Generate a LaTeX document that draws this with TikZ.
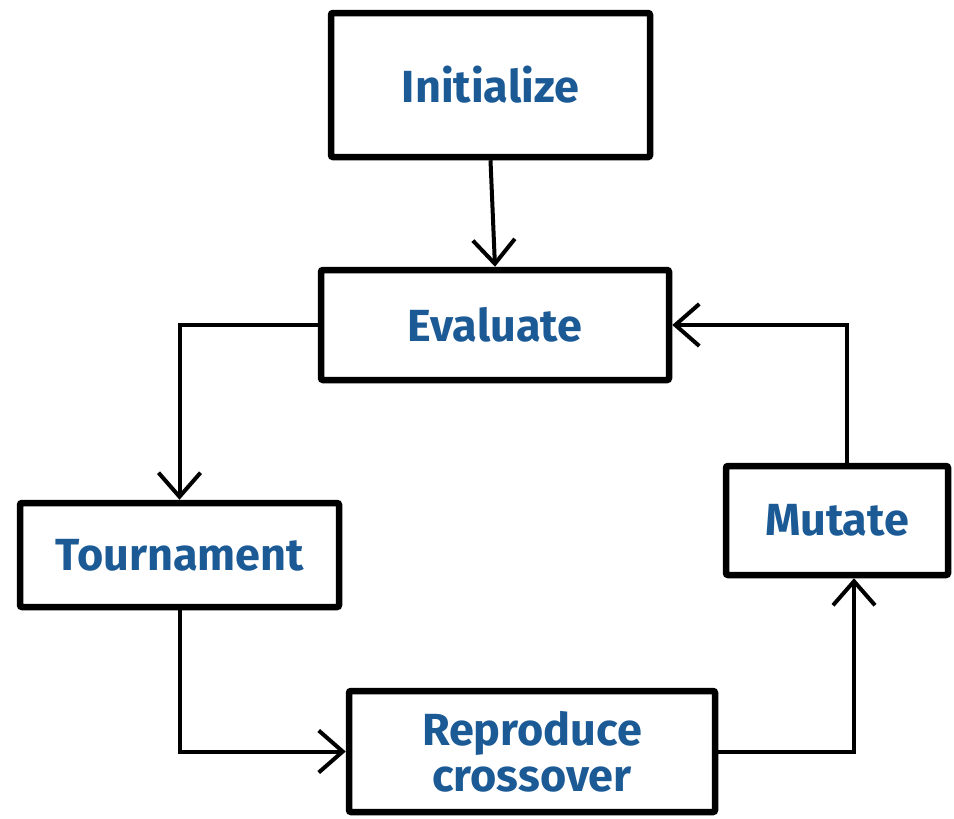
\documentclass[tikz,border=0pt]{standalone}
\usepackage{fontspec}
\setmainfont{Fira Sans}
\usetikzlibrary{arrows.meta,calc}
\definecolor{ink}{HTML}{1B5A95}
\begin{document}
\begin{tikzpicture}[x=1pt,y=-1pt,
  box/.style={draw=black,line width=6.5pt,rounded corners=2pt,inner sep=0pt,
    text=ink,align=center,font=\fontsize{45}{46}\selectfont\bfseries},
  conn/.style={draw=black,line width=4pt,
    -{Straight Barb[length=24pt,width=42pt,line width=4pt]}}]
\useasboundingbox (0,0) rectangle (954,819);
\node[box,minimum width=319pt,minimum height=144pt] (init) at (490.5,85) {Initialize};
\node[box,minimum width=348pt,minimum height=110pt] (eval) at (495,325) {Evaluate};
\node[box,minimum width=319pt,minimum height=104pt] (tour) at (179.5,555) {Tournament};
\node[box,minimum width=222pt,minimum height=109pt] (mut) at (837,520.5) {Mutate};
\node[box,minimum width=366pt,minimum height=121pt] (repro) at (532,751.5) {Reproduce\\crossover};
\draw[conn] (init.south) -- (eval.north);
\draw[conn] (eval.west) -| (tour.north);
\draw[conn] (tour.south) |- (repro.west);
\draw[conn] (repro.east) -| ([xshift=17pt]mut.south);
\draw[conn] ([xshift=10pt]mut.north) |- (eval.east);
\end{tikzpicture}
\end{document}
